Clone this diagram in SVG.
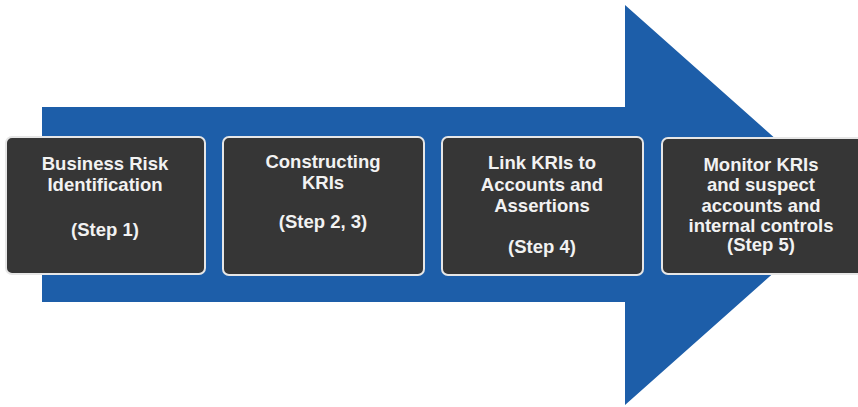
<svg xmlns="http://www.w3.org/2000/svg" width="858" height="407" viewBox="0 0 858 407">
<style>
.box{fill:#363636;stroke:#e6e6e6;stroke-width:2}
.t{font-family:"Liberation Sans",Arial,sans-serif;font-weight:bold;fill:#f2f2f2;text-anchor:middle;font-size:18.5px}
</style>
<rect width="858" height="407" fill="#ffffff"/>
<g id="arrow">
<polygon points="42,107 625,107 625,5 850,205 625,405 625,302 42,302" fill="#1d5ea9"/>
</g>
<g id="step1">
<rect class="box" x="6" y="137" width="199" height="137" rx="6"/>
<text class="t" x="105" y="170">Business Risk</text>
<text class="t" x="105" y="191">Identification</text>
<text class="t" x="105" y="236">(Step 1)</text>
</g>
<g id="step2">
<rect class="box" x="223" y="137" width="201" height="138" rx="6"/>
<text class="t" x="323" y="168">Constructing</text>
<text class="t" x="323" y="189">KRIs</text>
<text class="t" x="323" y="228">(Step 2, 3)</text>
</g>
<g id="step3">
<rect class="box" x="442" y="137" width="201" height="138" rx="6"/>
<text class="t" x="542" y="169">Link KRIs to</text>
<text class="t" x="542" y="191">Accounts and</text>
<text class="t" x="542" y="212">Assertions</text>
<text class="t" x="542" y="253">(Step 4)</text>
</g>
<g id="step4">
<rect class="box" x="662" y="138" width="206" height="136" rx="6"/>
<text class="t" x="761" y="171">Monitor KRIs</text>
<text class="t" x="761" y="191">and suspect</text>
<text class="t" x="761" y="212">accounts and</text>
<text class="t" x="761" y="232">internal controls</text>
<text class="t" x="761" y="251" fill="#f5efdc">(Step 5)</text>
</g>
<g id="connectors"></g>
</svg>
